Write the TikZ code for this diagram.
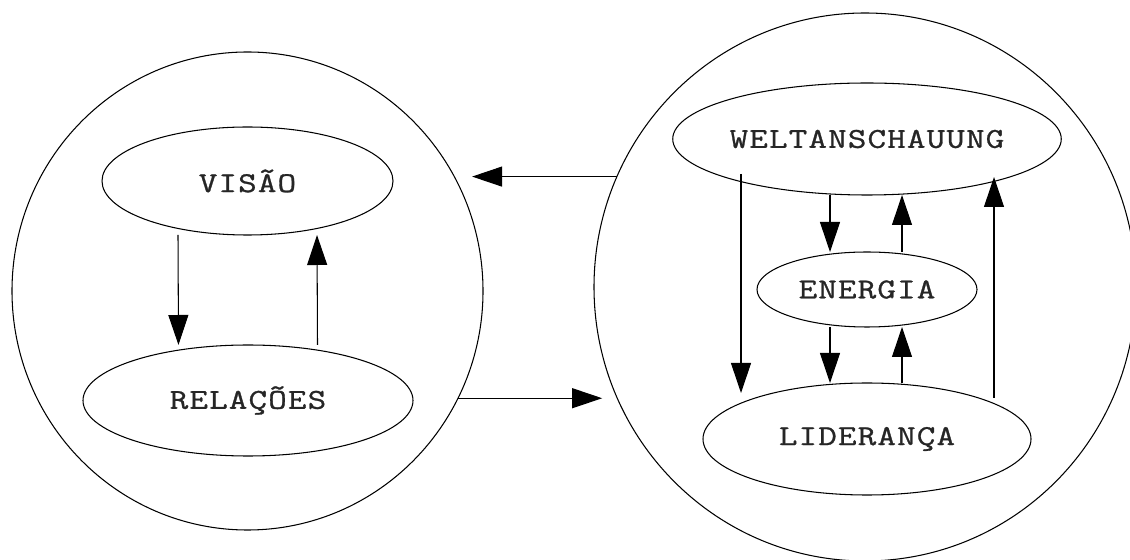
\documentclass[tikz,border=0pt]{standalone}
\usepackage{fontspec}
\newfontfamily\labelfont{Latin Modern Mono}[FakeStretch=1.25,LetterSpace=4,FakeBold=1]
\usetikzlibrary{shapes.geometric,arrows.meta}

\begin{document}
\begin{tikzpicture}[
    bubble/.style={ellipse, draw, line width=0.6pt, inner sep=0pt, outer sep=0pt,
      text=black!85, font=\labelfont\fontsize{16.4}{18}\selectfont},
    arrow/.style={line width=0.6pt, -{Triangle[length=0.6cm,width=0.4cm]}}
  ]
    \useasboundingbox (0,0) rectangle (22.6,11.2);
    % Outer circles
    \node[bubble, minimum width=9.42cm, minimum height=9.56cm] (lc) at (4.95,5.38) {};
    \node[bubble, minimum width=10.84cm, minimum height=10.96cm] (rc) at (17.30,5.46) {};
    % Left group
    \node[bubble, minimum width=5.82cm, minimum height=2.16cm] (vis) at (4.95,7.58) {VISÃO};
    \node[bubble, minimum width=6.6cm, minimum height=2.22cm] (rel) at (4.96,3.19) {RELAÇÕES};
    % Right group
    \node[bubble, minimum width=6.56cm, minimum height=2.24cm] (wel) at (17.34,8.42) {WELTANSCHAUUNG};
    \node[bubble, minimum width=4.4cm, minimum height=1.5cm] (ene) at (17.34,5.41) {ENERGIA};
    \node[bubble, minimum width=6.56cm, minimum height=2.24cm] (lid) at (17.34,2.42) {LIDERANÇA};
    % Arrows inside the left circle
    \draw[arrow] ([xshift=-1.39cm]vis.south) -- ([xshift=-1.39cm]rel.north);
    \draw[arrow] ([xshift=1.39cm]rel.north) -- ([xshift=1.39cm]vis.south);
    % Arrows inside the right circle
    \draw[arrow] ([xshift=-2.52cm,yshift=0.42cm]wel.south) -- ([xshift=-2.52cm,yshift=-0.2cm]lid.north);
    \draw[arrow] ([xshift=2.54cm,yshift=-0.3cm]lid.north) -- ([xshift=2.54cm,yshift=0.36cm]wel.south);
    \draw[arrow] ([xshift=-0.74cm]wel.south) -- ([xshift=-0.74cm]ene.north);
    \draw[arrow] ([xshift=0.70cm]ene.north) -- ([xshift=0.70cm]wel.south);
    \draw[arrow] ([xshift=-0.74cm]ene.south) -- ([xshift=-0.74cm]lid.north);
    \draw[arrow] ([xshift=0.70cm]lid.north) -- ([xshift=0.70cm]ene.south);
    % Arrows between the circles
    \draw[arrow, shorten >=0.32cm] (rc.156.3) -- (rc.156.3 -| lc.28.6);
    \draw[arrow, shorten >=0.26cm] (lc.333.3) -- (lc.333.3 -| rc.203.9);
\end{tikzpicture}
\end{document}
